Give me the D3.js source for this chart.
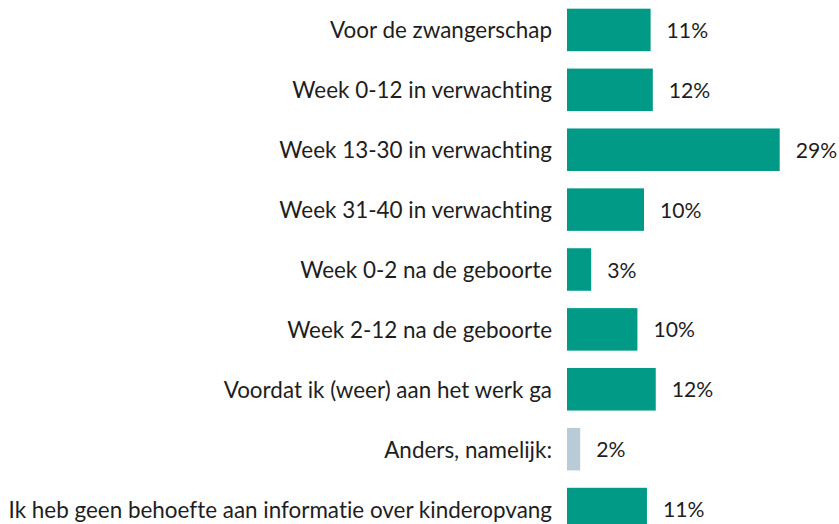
<!DOCTYPE html>
<html>
<head>
<meta charset="utf-8">
<script src="https://cdn.jsdelivr.net/npm/d3@7"></script>
<style>
  body { margin: 0; background: #fff; }
  text { font-family: Lato, "Open Sans", sans-serif; fill: #1e1e1e; font-variant-ligatures: none; }
</style>
</head>
<body>
<div id="chart"></div>
<script>
// categories, top to bottom
var categories = [
  "Voor de zwangerschap",
  "Week 0-12 in verwachting",
  "Week 13-30 in verwachting",
  "Week 31-40 in verwachting",
  "Week 0-2 na de geboorte",
  "Week 2-12 na de geboorte",
  "Voordat ik (weer) aan het werk ga",
  "Anders, namelijk:",
  "Ik heb geen behoefte aan informatie over kinderopvang"
];
// bar lengths (estimated, unrounded) and the printed labels
var values = [11.4, 11.7, 29.0, 10.5, 3.3, 9.6, 12.1, 1.8, 10.9];
var valueLabels = ["11%", "12%", "29%", "10%", "3%", "10%", "12%", "2%", "11%"];
var highlight = ["Anders, namelijk:"];

var width = 839, height = 524;
var margin = {left: 567, right: 59};

var svg = d3.select("#chart")
  .append("svg")
    .attr("width", width)
    .attr("height", height);

var x = d3.scaleLinear()
  .domain([0, 29])
  .range([margin.left, margin.left + 212.7]);

var y = d3.scaleBand()
  .domain(categories)
  .range([0, 539])
  .paddingInner(0.29)
  .paddingOuter(0.145);

var data = categories.map(function(c, i) {
  return {cat: c, val: values[i], label: valueLabels[i]};
});

// bars
svg.selectAll("rect")
  .data(data)
  .enter()
  .append("rect")
    .attr("x", x(0))
    .attr("y", function(d) { return y(d.cat); })
    .attr("width", function(d) { return x(d.val) - x(0); })
    .attr("height", y.bandwidth())
    .attr("fill", function(d) { return highlight.indexOf(d.cat) >= 0 ? "#b8cbd7" : "#009a87"; });

// category labels
var labels = svg.selectAll(".cat")
  .data(data)
  .enter()
  .append("text")
    .attr("class", "cat")
    .attr("x", 552)
    .attr("y", function(d) { return y(d.cat) + y.bandwidth() / 2; })
    .attr("dy", "0.38em")
    .attr("text-anchor", "end")
    .style("font-size", "19px")
    .text(function(d) { return d.cat; });

// fit longest label to the reference width
var longest = d3.max(labels.nodes(), function(n) { return n.getComputedTextLength(); });
var fs = 19 * 544 / longest;
labels.style("font-size", fs + "px");

// value labels
var vals = svg.selectAll(".val")
  .data(data)
  .enter()
  .append("text")
    .attr("class", "val")
    .attr("x", function(d) { return x(d.val) + 16; })
    .attr("y", function(d) { return y(d.cat) + y.bandwidth() / 2; })
    .attr("dy", "0.38em")
    .style("font-size", "19px")
    .text(function(d) { return d.label; });

// keep "29%" inside the right edge
var w29 = vals.filter(function(d) { return d.label === "29%"; }).node().getComputedTextLength();
vals.style("font-size", Math.min(fs, 19 * 41.5 / w29) + "px");
</script>
</body>
</html>
